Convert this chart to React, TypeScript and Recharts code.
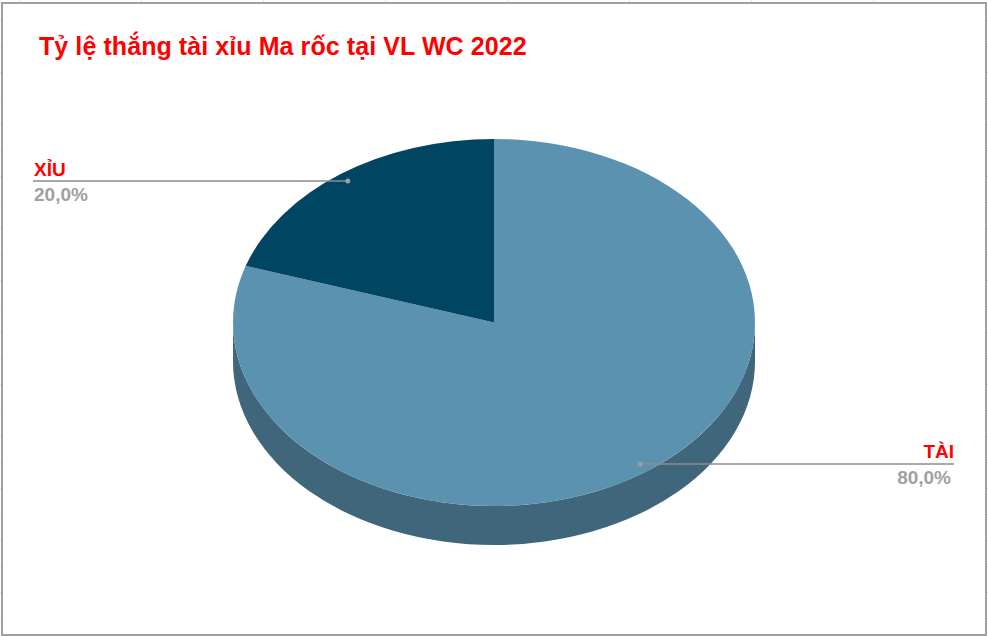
import { PieChart, Pie, Cell } from 'recharts';

const categories = ['TÀI', 'XỈU'];
const percents = [80, 20];
const sliceColors = ['#5B92B0', '#004562'];
const title = 'Tỷ lệ thắng tài xỉu Ma rốc tại VL WC 2022';

const data = categories.map((name, i) => ({ name, value: percents[i] }));

const FONT = '"Liberation Sans", Arial, sans-serif';
const TILT = 0.703; // vertical squash of the pie
const DEPTH = 39;
const WALL = '#40667C';

const rad = (deg: number) => (deg * Math.PI) / 180;

function point(cx: number, cy: number, r: number, deg: number) {
  return { x: cx + r * Math.cos(rad(deg)), y: cy - r * TILT * Math.sin(rad(deg)) };
}

function TiltedSlice(props: any) {
  const { cx, cy, outerRadius: r, startAngle, endAngle, fill } = props;
  const ry = r * TILT;
  const a = point(cx, cy, r, startAngle);
  const b = point(cx, cy, r, endAngle);
  const large = Math.abs(startAngle - endAngle) > 180 ? 1 : 0;
  const top = `M${cx},${cy} L${a.x},${a.y} A${r},${ry} 0 ${large} 1 ${b.x},${b.y} Z`;

  // the side wall only shows on the front half
  const from = Math.min(startAngle, 0);
  const to = Math.max(endAngle, -180);
  let wall = '';
  if (from > to) {
    const p = point(cx, cy, r, from);
    const q = point(cx, cy, r, to);
    wall = `M${p.x},${p.y} A${r},${ry} 0 0 1 ${q.x},${q.y} L${q.x},${q.y + DEPTH} A${r},${ry} 0 0 0 ${p.x},${p.y + DEPTH} Z`;
  }
  return (
    <g>
      {wall && <path d={wall} fill={WALL} />}
      <path d={top} fill={fill} />
    </g>
  );
}

function SliceLabel(props: any) {
  const { cx, cy, outerRadius: r, midAngle, name, percent } = props;
  const dot = point(cx, cy, r * 0.953, midAngle);
  const isRight = Math.cos(rad(midAngle)) > 0;
  const endX = isRight ? cx + 460 : cx - 461;
  const pct = (percent * 100).toFixed(1).replace('.', ',') + '%';
  return (
    <g>
      <line x1={dot.x} y1={dot.y} x2={endX} y2={dot.y} stroke="#8C8C8C" strokeWidth={1.6} />
      <circle cx={dot.x} cy={dot.y} r={2.5} fill="#A0A0A0" />
      <text
        x={isRight ? endX : endX + 1}
        y={dot.y - 5.5}
        textAnchor={isRight ? 'end' : 'start'}
        fontFamily={FONT}
        fontWeight="bold"
        fontSize={19}
        fill="#FF0000"
      >
        {name}
      </text>
      <text
        x={isRight ? endX - 3 : endX + 1}
        y={dot.y + 20}
        textAnchor={isRight ? 'end' : 'start'}
        fontFamily={FONT}
        fontWeight="bold"
        fontSize={19}
        fill="#A0A0A0"
      >
        {pct}
      </text>
    </g>
  );
}

export default function App() {
  return (
    <div
      style={{
        position: 'absolute',
        left: 0,
        top: 0,
        width: 988,
        height: 636,
        overflow: 'hidden',
        background: '#fff',
        backgroundImage:
          'linear-gradient(to right, #E2E2E2 1px, transparent 1px), linear-gradient(to bottom, #E2E2E2 1px, transparent 1px)',
        backgroundSize: '122px 26px',
        backgroundPosition: '19px 20px',
      }}
    >
      <div
        style={{
          position: 'absolute',
          left: 1,
          top: 2,
          width: 982,
          height: 630,
          background: '#fff',
          border: '2px solid #A0A0A0',
        }}
      />
      <div style={{ position: 'absolute', left: 0, top: 0 }}>
        <PieChart width={988} height={636} margin={{ top: 0, right: 0, bottom: 0, left: 0 }}>
          <text x={39} y={55} fontFamily={FONT} fontWeight="bold" fontSize={25} letterSpacing={0.08} fill="#FF0000">
            {title}
          </text>
          <Pie
            data={data}
            dataKey="value"
            nameKey="name"
            cx={494}
            cy={322.5}
            innerRadius={0}
            outerRadius={261}
            startAngle={90}
            endAngle={-270}
            paddingAngle={0}
            stroke="none"
            shape={TiltedSlice}
            label={SliceLabel}
            labelLine={false}
            isAnimationActive={false}
          >
            {data.map((d, i) => (
              <Cell key={d.name} fill={sliceColors[i]} />
            ))}
          </Pie>
        </PieChart>
      </div>
    </div>
  );
}
